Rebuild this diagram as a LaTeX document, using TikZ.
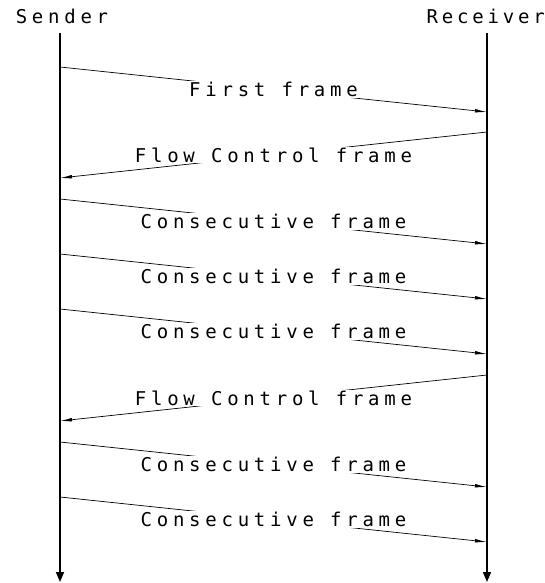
\documentclass[tikz,border=0pt]{standalone}
\usepackage{fontspec}
\newfontfamily\cadfont[LetterSpace=25]{DejaVu Sans Mono}
\newfontfamily\cadfontnarrow[LetterSpace=20]{DejaVu Sans Mono}
\usetikzlibrary{arrows.meta}
\tikzset{
  lbl/.style={font=\cadfont\fontsize{19}{22}\selectfont, inner sep=0pt},
  lblnarrow/.style={font=\cadfontnarrow\fontsize{19}{22}\selectfont, inner sep=0pt},
  lifeline/.style={line width=1.6pt, -{Triangle[length=10pt,width=8pt]}},
  msg/.style={line width=0.7pt, -{Latex[length=12pt,width=3.6pt]}},
  msglbl/.style={lbl, fill=white, inner sep=1pt}
}
\begin{document}
\begin{tikzpicture}[x=1pt,y=-1pt]
\useasboundingbox (0,0) rectangle (545,583);
\node[lbl] (S) at (62,16) {Sender};
\node[lblnarrow, anchor=east] (R) at (545,16) {Receiver};
\coordinate (st) at (60,33);
\coordinate (sb) at (60,582);
\coordinate (rt) at (487,33);
\coordinate (rb) at (487,582);
\draw[lifeline] (st) -- (sb);
\draw[lifeline] (rt) -- (rb);
% message end points
\coordinate (s1) at (60,67);   \coordinate (r1) at (487,112);
\coordinate (r2) at (487,132); \coordinate (s2) at (60,178);
\coordinate (s3) at (60,199);  \coordinate (r3) at (487,244);
\coordinate (s4) at (60,254);  \coordinate (r4) at (487,299);
\coordinate (s5) at (60,309);  \coordinate (r5) at (487,354);
\coordinate (r6) at (487,375); \coordinate (s6) at (60,421);
\coordinate (s7) at (60,442);  \coordinate (r7) at (487,487);
\coordinate (s8) at (60,497);  \coordinate (r8) at (487,542);
\draw[msg] (s1) -- node[msglbl] (m1) {First frame} (r1);
\draw[msg] (r2) -- node[msglbl] (m2) {Flow Control frame} (s2);
\draw[msg] (s3) -- node[msglbl] (m3) {Consecutive frame} (r3);
\draw[msg] (s4) -- node[msglbl] (m4) {Consecutive frame} (r4);
\draw[msg] (s5) -- node[msglbl] (m5) {Consecutive frame} (r5);
\draw[msg] (r6) -- node[msglbl] (m6) {Flow Control frame} (s6);
\draw[msg] (s7) -- node[msglbl] (m7) {Consecutive frame} (r7);
\draw[msg] (s8) -- node[msglbl] (m8) {Consecutive frame} (r8);
\end{tikzpicture}
\end{document}
